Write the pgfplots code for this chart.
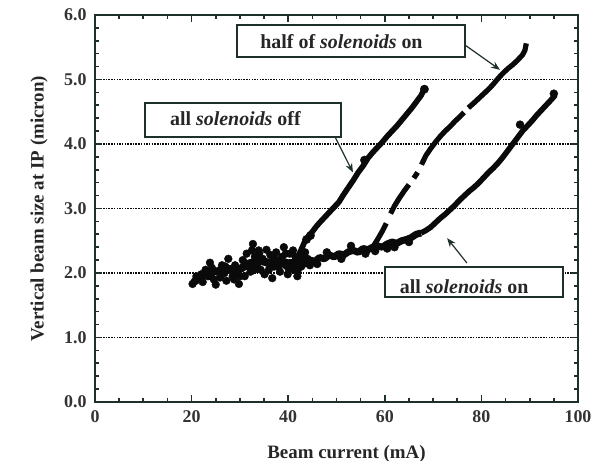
\documentclass[border=0pt]{standalone}
\usepackage{fontspec}
\setmainfont{Liberation Serif}
\usepackage{pgfplots}
\pgfplotsset{compat=1.18}
\usetikzlibrary{arrows.meta}
\definecolor{frame}{RGB}{30,48,42}
\definecolor{ink}{RGB}{10,10,10}
\begin{document}
\begin{tikzpicture}
\begin{axis}[name=ax, scale only axis, width=483bp, height=387bp,
  xmin=0, xmax=100, ymin=0, ymax=6,
  xtick={0,20,...,100}, ytick={0,1,...,6},
  minor x tick num=3, minor y tick num=4,
  tick align=inside, major tick length=7bp, minor tick length=4bp,
  every tick/.style={frame, line width=1.6bp},
  axis line style={frame, line width=1.8bp},
  ymajorgrids,
  major grid style={ink, line width=1.5bp, dash pattern=on 1.5bp off 1.2bp},
  /pgf/number format/assume math mode=true,
  yticklabel style={/pgf/number format/.cd, fixed, fixed zerofill, precision=1},
  ticklabel style={font=\bfseries\fontsize{18}{18}\selectfont, text=black!80},
  xticklabel shift=5bp, yticklabel shift=5bp,
  xlabel={Beam current (mA)},
  ylabel={Vertical beam size at IP (micron)},
  label style={font=\bfseries\fontsize{19}{19}\selectfont, text=black!85},
  xlabel style={at={(axis description cs:0.5207,-0.1450)}, anchor=base},
  ylabel style={at={(axis description cs:-0.116,0.5)}, anchor=center},
  unbounded coords=jump,
  clip=false,
]
% low-current cluster (all three settings overlap)
\addplot[ink, line width=8bp, line join=round, line cap=round] coordinates {
(20.6,1.87) (22,1.95) (24,2.03) (26,2.02) (28,2.06) (30,2.06) (32,2.15) (34,2.19)
(36,2.16) (38,2.19) (40,2.15) (42,2.16) (44,2.20)
};
\addplot[only marks, mark=*, mark size=3.9bp, ink] coordinates {
(20.2,1.83) (20.8,1.88) (21.5,1.92) (22.0,1.98) (22.3,1.86) (22.9,2.05) (23.4,1.95)
(23.8,2.16) (24.2,2.08) (24.6,1.90) (25.0,1.82) (25.4,2.02) (25.9,1.93) (26.3,2.12)
(26.8,2.00) (27.2,1.88) (27.6,2.22) (28.0,2.05) (28.5,1.95) (29.0,2.12) (29.4,1.98)
(29.8,1.83) (30.2,2.07) (30.6,2.20) (31.0,1.95) (31.4,2.30) (31.8,2.10) (32.2,2.02)
(32.7,2.45) (33.1,2.25) (33.5,2.12) (33.9,2.35) (34.3,2.05) (34.7,2.22) (35.1,1.98)
(35.5,2.36) (35.9,2.15) (36.3,2.28) (36.7,1.92) (37.1,2.10) (37.5,2.32) (37.9,2.18)
(38.3,2.02) (38.7,2.25) (39.1,2.40) (39.5,2.12) (39.9,1.98) (40.3,2.30) (40.7,2.15)
(41.1,2.05) (41.5,2.25) (41.9,1.95) (42.3,2.18) (42.7,2.10) (43.1,2.28) (43.5,2.15)
(44.0,2.22) (44.5,2.12) (21.0,1.95) (26.0,2.05) (28.8,1.90) (31.0,2.15) (33.0,2.05)
(36.0,2.05) (38.0,2.10) (40.0,2.08) (42.0,2.05) (34.0,2.30) (37.0,2.25) (39.5,2.30)
(32.5,2.35) (30.0,1.95) (27.0,2.10) (24.0,1.95) (41.0,2.35) (43.5,2.32)
};
% all solenoids off
\addplot[ink, line width=5.6bp, line join=round] coordinates {
(42.0,2.25) (42.8,2.38) (43.5,2.50) (44.3,2.58) (45.0,2.64) (45.8,2.72) (46.5,2.78)
(47.5,2.86) (48.5,2.94) (49.5,3.02) (50.5,3.10) (51.5,3.22) (52.5,3.33) (53.5,3.44)
(54.5,3.56) (55.5,3.66) (56.5,3.78) (57.5,3.87) (58.5,3.95) (59.5,4.03) (60.5,4.12)
(61.5,4.20) (62.5,4.28) (63.5,4.37) (64.5,4.46) (65.5,4.55) (66.5,4.65) (67.5,4.75)
(68.3,4.87)
};
\addplot[only marks, mark=*, mark size=4.2bp, ink] coordinates {(43.8,2.52) (44.6,2.58) (55.8,3.75) (68.2,4.85)};
% common lower branch and all solenoids on
\addplot[ink, line width=7bp, line join=round] coordinates {
(43.5,2.18) (44.5,2.20) (45.5,2.18) (46.5,2.24) (47.5,2.22) (48.5,2.28) (49.5,2.25)
(50.5,2.30) (51.5,2.28) (52.5,2.33) (53.5,2.35) (54.5,2.32) (55.5,2.38) (56.5,2.36)
(57.5,2.40) (58.5,2.42) (59.5,2.40) (60.5,2.45) (61.5,2.48) (62.5,2.46) (63.5,2.50)
(64.5,2.52) (65.5,2.55) (66.5,2.60) (67.5,2.62)
};
\addplot[ink, line width=5.6bp, line join=round] coordinates {
(67.5,2.62) (68.5,2.66) (69.5,2.71) (70.5,2.78) (71.5,2.85) (72.5,2.91) (73.5,2.98)
(74.5,3.05) (75.5,3.13) (76.5,3.20) (77.5,3.27) (78.5,3.33) (79.5,3.40) (80.5,3.48)
(81.5,3.56) (82.5,3.63) (83.5,3.71) (84.5,3.80) (85.5,3.90) (86.5,4.00) (87.5,4.10)
(88.5,4.20) (89.5,4.28) (90.5,4.36) (91.5,4.45) (92.5,4.53) (93.5,4.61) (94.5,4.69)
(95.3,4.76)
};
\addplot[only marks, mark=*, mark size=4bp, ink] coordinates {(88.0,4.30) (95.0,4.78) (48.0,2.32) (53.0,2.42) (58.0,2.34) (62.0,2.40) (65.0,2.48) (46.0,2.14) (51.0,2.22) (56.0,2.30) (60.5,2.38)};
% half of solenoids on
\addplot[ink, line width=5.2bp, line join=round, line cap=butt] coordinates {
(57.5,2.40) (58.5,2.52) (59.5,2.65) (60.3,2.77) (nan,nan)
(61.2,2.92) (62.0,3.04) (63.0,3.16) (64.0,3.27) (65.0,3.37) (nan,nan)
(66.0,3.47) (66.8,3.56) (nan,nan)
(67.6,3.68) (68.5,3.82) (69.5,3.93) (70.5,4.03) (71.5,4.12) (72.5,4.20) (73.5,4.27)
(74.5,4.35) (75.5,4.42) (76.4,4.49) (nan,nan)
(77.3,4.56) (78.5,4.64) (79.5,4.71) (80.5,4.78) (81.5,4.85) (82.5,4.93) (83.5,5.02)
(84.5,5.10) (85.5,5.17) (86.5,5.23) (87.5,5.30) (88.5,5.38) (89.0,5.45) (89.3,5.56)
};
% annotation boxes
\draw[frame, line width=1.5bp, fill=white] (29.4,5.35) rectangle (76.6,5.845);
\node[anchor=base west, inner sep=0, font=\bfseries\fontsize{20}{20}\selectfont, text=black!85] at (34.2,5.48) {half of \textit{solenoids} on};
\draw[frame, line width=1.5bp, fill=white] (10.35,4.109) rectangle (50.9,4.636);
\node[anchor=base west, inner sep=0, font=\bfseries\fontsize{20}{20}\selectfont, text=black!85] at (15.5,4.28) {all \textit{solenoids} off};
\draw[frame, line width=1.5bp, fill=white] (60.0,1.628) rectangle (96.9,2.093);
\node[anchor=base west, inner sep=0, font=\bfseries\fontsize{20}{20}\selectfont, text=black!85] at (63.1,1.685) {all \textit{solenoids} on};
% arrows
\draw[frame, line width=1.2bp, -{Stealth[length=9bp,width=7bp]}] (76.6,5.535) -- (83.85,5.15);
\draw[frame, line width=1.2bp, -{Stealth[length=9bp,width=7bp]}] (49.7,4.109) -- (53.4,3.56);
\draw[frame, line width=1.2bp, -{Stealth[length=9bp,width=7bp]}] (77.0,2.155) -- (72.9,2.54);
\end{axis}
\pgfresetboundingbox
\path ([shift={(-95bp,-59bp)}]ax.south west) rectangle ([shift={(21bp,15bp)}]ax.north east);
\end{tikzpicture}
\end{document}
